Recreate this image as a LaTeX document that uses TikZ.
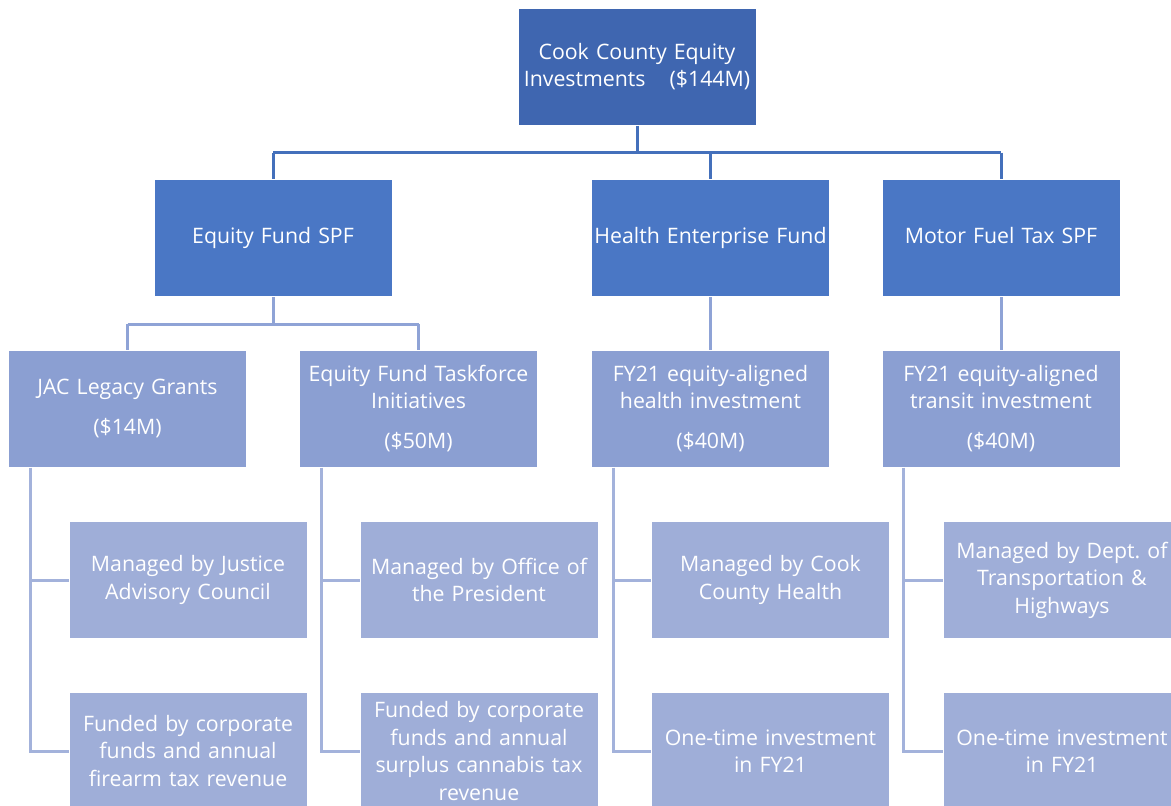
\documentclass[tikz,border=0pt]{standalone}
\usepackage{fontspec}
\setmainfont{Open Sans}
\usetikzlibrary{calc}
\definecolor{cTop}{HTML}{3F66B0}
\definecolor{cL2}{HTML}{4A77C5}
\definecolor{cL3}{HTML}{8B9FD2}
\definecolor{cL4}{HTML}{9FAED8}
\definecolor{lnA}{HTML}{4470BB}
\definecolor{lnB}{HTML}{8FA3D6}
\definecolor{lnC}{HTML}{A3B2DB}
\tikzset{
  box/.style={rectangle, draw=white, line width=1pt, minimum width=238pt, minimum height=117pt,
    text width=236pt, align=center, text=white, inner sep=0pt,
    font=\fontsize{21.3pt}{27.5pt}\selectfont},
  topbox/.style={box, fill=cTop},
  lvtwo/.style={box, fill=cL2},
  lvthree/.style={box, fill=cL3},
  lvfour/.style={box, fill=cL4},
  conA/.style={draw=lnA, line width=3pt},
  conB/.style={draw=lnB, line width=3pt},
  conC/.style={draw=lnC, line width=3pt},
}
\begin{document}
\frenchspacing
\begin{tikzpicture}[x=1pt,y=-1pt]
\useasboundingbox (0,0) rectangle (1171,806);
\clip (0,0) rectangle (1171,806);
\fill[white] (0,0) rectangle (1171,806);

% nodes
\node[topbox] (top) at (637,66.5) {Cook County Equity\\Investments\hspace{24pt}(\$144M)};
\node[lvtwo] (efspf) at (273,238) {Equity Fund SPF\strut};
\node[lvtwo] (hef) at (710.5,238) {Health Enterprise Fund\strut};
\node[lvtwo] (mft) at (1001,238) {Motor Fuel Tax SPF\strut};

\node[lvthree] (jac) at (127.5,408.5) {JAC Legacy Grants\\[13pt](\$14M)};
\node[lvthree] (eft) at (418.5,408.5) {Equity Fund Taskforce\\Initiatives\\[12pt](\$50M)};
\node[lvthree] (fyh) at (710.5,408.5) {FY21 equity-aligned\\health investment\\[12pt](\$40M)};
\node[lvthree] (fyt) at (1001,408.5) {FY21 equity-aligned\\transit investment\\[12pt](\$40M)};

\node[lvfour] (m1) at (188,580) {Managed by Justice\\Advisory Council};
\node[lvfour] (m2) at (479,580) {Managed by Office of\\the President};
\node[lvfour] (m3) at (770.5,580) {Managed by Cook\\County Health};
\node[lvfour] (m4) at (1062,580) {Managed by Dept.\ of\\Transportation \&\\Highways};

\node[lvfour] (f1) at (188,751) {Funded by corporate\\funds and annual\\firearm tax revenue};
\node[lvfour] (f2) at (479,751) {Funded by corporate\\funds and annual\\surplus cannabis tax\\revenue};
\node[lvfour] (f3) at (770.5,751) {One-time investment\\in FY21};
\node[lvfour] (f4) at (1062,751) {One-time investment\\in FY21};

% level 1 connectors
\coordinate (h1) at ($(top.south)+(0,27)$);
\draw[conA] (top.south) -- (h1);
\draw[conA] (h1 -| efspf.north) -- (h1 -| mft.north);
\draw[conA] (h1 -| efspf.north) -- (efspf.north);
\draw[conA] (h1 -| hef.north) -- (hef.north);
\draw[conA] (h1 -| mft.north) -- (mft.north);

% level 2 connectors
\coordinate (h2) at ($(efspf.south)+(0,27)$);
\draw[conB] (efspf.south) -- (h2);
\draw[conB] (h2 -| jac.north) -- (h2 -| eft.north);
\draw[conB] (h2 -| jac.north) -- (jac.north);
\draw[conB] (h2 -| eft.north) -- (eft.north);
\draw[conB] (hef.south) -- (fyh.north);
\draw[conB] (mft.south) -- (fyt.north);

% level 3 connectors
\coordinate (s1) at ($(jac.south west)+(22,0)$);
\coordinate (s2) at ($(eft.south west)+(22,0)$);
\coordinate (s3) at ($(fyh.south west)+(22,0)$);
\coordinate (s4) at ($(fyt.south west)+(22,0)$);
\draw[conC] (s1) |- (f1.west);
\draw[conC] (s1 |- m1.west) -- (m1.west);
\draw[conC] (s2) |- (f2.west);
\draw[conC] (s2 |- m2.west) -- (m2.west);
\draw[conC] (s3) |- (f3.west);
\draw[conC] (s3 |- m3.west) -- (m3.west);
\draw[conC] (s4) |- (f4.west);
\draw[conC] (s4 |- m4.west) -- (m4.west);
\end{tikzpicture}
\end{document}
